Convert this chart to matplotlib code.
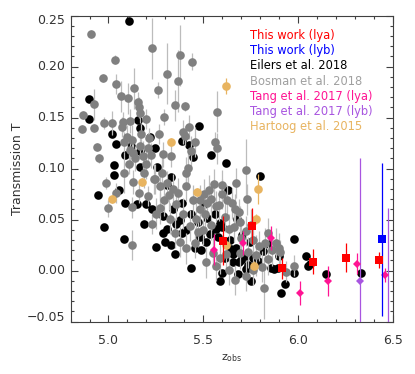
import numpy as np
import matplotlib
matplotlib.use('Agg')
import matplotlib.pyplot as plt
from matplotlib.ticker import MultipleLocator

# ---------------------------------------------------------------------------
# Data
# ---------------------------------------------------------------------------
# This work (Lya)
tw_a_z = [5.606, 5.759, 5.917, 6.080, 6.250, 6.426]
tw_a_T = [0.0295, 0.0439, 0.0023, 0.0088, 0.0128, 0.0105]
tw_a_e = [0.024, 0.018, 0.010, 0.012, 0.014, 0.008]

# This work (Lyb)
tw_b_z = [6.444]
tw_b_T = [0.031]
tw_b_e = [0.075]

# Tang et al. 2017 (Lya)
tang_a_z = [5.558, 5.710, 5.859, 6.012, 6.159, 6.308, 6.459]
tang_a_T = [0.0206, 0.027, 0.032, -0.022, -0.010, 0.007, -0.004]
tang_a_e = [0.015, 0.012, 0.012, 0.012, 0.015, 0.010, 0.007]

# Tang et al. 2017 (Lyb)
tang_b_z = [6.324, 6.473]
tang_b_T = [-0.010, -0.070]
tang_b_e = [0.120, 0.131]

# Hartoog et al. 2015
hart_z = [5.620, 5.328, 5.179, 5.019, 5.469, 5.789, 5.778, 5.620, 5.769]
hart_T = [0.181, 0.126, 0.087, 0.0704, 0.077, 0.080, 0.051, 0.025, 0.005]
hart_e = [0.008, 0.004, 0.004, 0.004, 0.004, 0.015, 0.005, 0.004, 0.004]

# Eilers et al. 2018
eil_z = [5.109, 4.898, 4.898, 5.021, 5.039, 5.030, 5.030, 4.947, 5.056, 4.976,
         5.088, 5.081, 5.088, 5.118, 5.158, 5.167, 5.165, 5.167, 5.149, 5.197,
         5.186, 5.218, 5.246, 5.227, 5.248, 5.258, 5.285, 5.306, 5.300, 5.330,
         5.307, 5.330, 5.350, 5.376, 5.388, 5.386, 5.425, 5.436, 5.443, 5.479,
         5.502, 5.481, 5.490, 5.539, 5.562, 5.629, 5.620, 5.680, 5.717, 5.683,
         5.752, 5.799, 5.588, 5.601, 5.859, 5.899, 5.933, 5.908, 5.976, 5.976,
         6.040, 6.052, 6.147, 6.329, 5.534, 5.569, 5.587, 5.646, 5.657, 5.686,
         5.736, 5.815, 5.787, 5.892, 5.411, 5.390, 5.516, 5.437,
         5.600, 5.615, 5.640, 5.655, 5.670, 5.700, 5.725, 5.745, 5.470, 5.520,
         5.355, 5.340, 5.290, 5.455, 5.580, 5.705, 5.760, 5.845, 5.870, 6.060]
eil_T = [0.245, 0.168, 0.149, 0.134, 0.124, 0.104, 0.094, 0.074, 0.079, 0.043,
         0.066, 0.031, 0.113, 0.122, 0.148, 0.140, 0.117, 0.102, 0.065, 0.065,
         0.046, 0.131, 0.120, 0.060, 0.023, 0.102, 0.037, 0.084, 0.028, 0.092,
         0.041, 0.025, 0.016, 0.050, 0.066, 0.127, 0.123, 0.003, 0.111, 0.142,
         0.065, 0.033, 0.020, 0.113, 0.056, 0.079, 0.106, 0.051, 0.013, -0.003,
         -0.010, 0.093, -0.010, -0.002, 0.003, 0.014, -0.013, -0.022, 0.031, -0.002,
         0.014, 0.005, -0.003, -0.002, 0.036, 0.041, 0.047, 0.021, 0.016, 0.008,
         0.006, 0.019, 0.0095, 0.003, 0.040, 0.037, 0.028, 0.056,
         0.043, 0.012, 0.030, 0.008, 0.022, 0.010, 0.002, 0.028, 0.048, 0.052,
         0.046, 0.060, 0.054, 0.022, 0.033, 0.035, 0.012, 0.026, 0.002, 0.007]

# Bosman et al. 2018
bos_z = [4.910, 5.232, 5.035, 5.378, 5.439, 4.970, 5.042, 5.307, 5.367, 5.133,
         5.262, 5.067, 5.102, 4.923, 5.155, 5.349, 5.402, 5.571, 4.865, 4.858,
         4.923, 4.976, 5.018, 5.074, 5.112, 5.160, 5.165, 5.295, 5.200, 5.072,
         5.100, 5.172, 5.211, 5.267, 4.942, 4.949, 5.081, 5.126, 5.130, 5.167,
         5.207, 5.225, 5.290, 5.330, 5.392, 5.406, 5.422, 5.455, 5.560, 5.571,
         5.437, 4.987, 4.996, 5.081, 5.037, 5.123, 5.125, 5.186, 5.200, 5.239,
         5.281, 5.270, 5.293, 5.320, 5.227, 5.355, 5.253, 5.369, 5.411, 5.407,
         5.418, 5.444, 5.481, 5.529, 5.557, 5.597, 5.502, 5.522, 5.567, 5.601,
         5.624, 5.671, 5.727, 5.732, 5.665, 5.613, 5.636, 5.660, 5.692, 5.727,
         5.393, 5.428, 5.464, 5.499, 5.350, 5.376, 5.411, 5.455, 5.762, 5.794,
         5.824, 5.843, 5.885, 5.897, 5.843, 5.808, 5.762, 5.724, 5.669, 5.819,
         5.636, 5.569, 5.516, 5.976, 5.937, 5.692, 5.736, 5.551, 5.472, 5.270,
         5.323, 5.209, 5.160, 5.130, 5.109,
         5.140, 5.115, 5.180, 5.245, 5.310, 5.340, 5.480, 5.510, 5.540, 5.585,
         5.650, 5.690, 5.750, 5.780, 5.700, 5.620, 5.590, 5.540, 5.860, 5.905]
bos_T = [0.232, 0.218, 0.207, 0.211, 0.205, 0.189, 0.183, 0.193, 0.186, 0.179,
         0.177, 0.171, 0.169, 0.163, 0.165, 0.162, 0.161, 0.156, 0.153, 0.139,
         0.140, 0.145, 0.145, 0.146, 0.147, 0.160, 0.155, 0.151, 0.149, 0.141,
         0.131, 0.134, 0.130, 0.134, 0.121, 0.110, 0.126, 0.128, 0.115, 0.122,
         0.120, 0.113, 0.114, 0.112, 0.136, 0.132, 0.141, 0.126, 0.126, 0.120,
         0.117, 0.086, 0.061, 0.096, 0.076, 0.062, 0.025, 0.096, 0.105, 0.090,
         0.096, 0.083, 0.069, 0.074, 0.046, 0.065, 0.056, 0.076, 0.083, 0.096,
         0.101, 0.069, 0.069, 0.079, 0.085, 0.084, 0.075, 0.066, 0.063, 0.075,
         0.069, 0.086, 0.099, 0.070, 0.060, 0.053, 0.041, 0.043, 0.048, 0.039,
         0.056, 0.044, 0.051, 0.040, 0.037, 0.028, 0.022, 0.027, 0.030, 0.024,
         0.027, 0.037, 0.027, 0.022, 0.011, 0.004, 0.001, -0.005, -0.009, -0.017,
         0.001, 0.005, 0.008, 0.005, -0.001, 0.017, 0.018, 0.017, 0.038, 0.061,
         0.051, 0.073, 0.076, 0.087, 0.105,
         0.110, 0.118, 0.112, 0.090, 0.086, 0.080, 0.060, 0.056, 0.070, 0.064,
         0.066, 0.058, 0.045, 0.015, 0.032, 0.016, 0.012, 0.045, 0.020, 0.018]
bos_e = [0.004, 0.030, 0.004, 0.030, 0.008, 0.004, 0.010, 0.030, 0.030, 0.020,
         0.008, 0.015, 0.015, 0.015, 0.010, 0.015, 0.004, 0.020, 0.004, 0.004,
         0.004, 0.006, 0.012, 0.010, 0.012, 0.010, 0.010, 0.008, 0.010, 0.010,
         0.012, 0.010, 0.010, 0.010, 0.004, 0.004, 0.010, 0.015, 0.010, 0.012,
         0.015, 0.012, 0.012, 0.010, 0.012, 0.010, 0.012, 0.015, 0.010, 0.015,
         0.015, 0.006, 0.008, 0.020, 0.010, 0.010, 0.015, 0.015, 0.015, 0.015,
         0.015, 0.015, 0.015, 0.015, 0.010, 0.015, 0.015, 0.015, 0.015, 0.015,
         0.015, 0.015, 0.015, 0.015, 0.015, 0.015, 0.015, 0.015, 0.015, 0.015,
         0.015, 0.015, 0.030, 0.015, 0.015, 0.015, 0.015, 0.015, 0.015, 0.015,
         0.015, 0.015, 0.015, 0.015, 0.015, 0.015, 0.015, 0.015, 0.015, 0.015,
         0.015, 0.015, 0.015, 0.015, 0.015, 0.015, 0.015, 0.015, 0.015, 0.030,
         0.015, 0.015, 0.015, 0.010, 0.010, 0.015, 0.015, 0.015, 0.015, 0.015,
         0.015, 0.010, 0.010, 0.012, 0.010,
         0.012, 0.010, 0.015, 0.015, 0.012, 0.015, 0.015, 0.015, 0.012, 0.015,
         0.015, 0.012, 0.015, 0.020, 0.015, 0.015, 0.015, 0.015, 0.015, 0.012]

legend_labels = ['This work (lya)', 'This work (lyb)', 'Eilers et al. 2018',
                 'Bosman et al. 2018', 'Tang et al. 2017 (lya)',
                 'Tang et al. 2017 (lyb)', 'Hartoog et al. 2015']
legend_colors = ['#ff0000', '#0000ff', '#000000', '#a0a0a0',
                 '#ff1493', '#a855e0', '#e8b460']

# ---------------------------------------------------------------------------
# Plot
# ---------------------------------------------------------------------------
fig = plt.figure(figsize=(4.15, 3.74), dpi=100)
ax = fig.add_axes([0.170, 0.140, 0.777, 0.818])

ms_c = 6.2
# Eilers
ax.plot(eil_z, eil_T, 'o', color='black', ms=ms_c, mew=0, zorder=2)
# Bosman
ax.errorbar(bos_z, bos_T, yerr=bos_e, fmt='none', ecolor='#bcbcbc', elinewidth=0.9,
            zorder=2.5)
ax.plot(bos_z, bos_T, 'o', color='#808080', ms=ms_c, mew=0, zorder=3)
# Hartoog
ax.errorbar(hart_z, hart_T, yerr=hart_e, fmt='o', color='#e8b460', ms=ms_c, mew=0,
            elinewidth=0.9, zorder=4)
# Tang lya
ax.errorbar(tang_a_z, tang_a_T, yerr=tang_a_e, fmt='D', color='#ff1493', ms=4.3, mew=0,
            elinewidth=0.9, zorder=5)
# Tang lyb
ax.errorbar(tang_b_z, tang_b_T, yerr=tang_b_e, fmt='D', color='#a855e0', ms=4.3, mew=0,
            elinewidth=0.9, zorder=5)
# This work lya
ax.errorbar(tw_a_z, tw_a_T, yerr=tw_a_e, fmt='s', color='#ff0000', ms=5.8, mew=0,
            elinewidth=0.9, zorder=6)
# This work lyb
ax.errorbar(tw_b_z, tw_b_T, yerr=tw_b_e, fmt='s', color='#0000ff', ms=5.8, mew=0,
            elinewidth=0.9, zorder=6)

ax.set_xlim(4.8, 6.5)
ax.set_ylim(-0.05, 0.25)
ax.xaxis.set_major_locator(MultipleLocator(0.5))
ax.xaxis.set_minor_locator(MultipleLocator(0.1))
ax.yaxis.set_major_locator(MultipleLocator(0.05))
ax.yaxis.set_minor_locator(MultipleLocator(0.01))
ax.set_xticklabels([])
ax.set_yticklabels([])
ax.tick_params(which='both', direction='in', top=True, right=True, color='#404040')
ax.tick_params(which='major', length=5, width=0.8)
ax.tick_params(which='minor', length=2.5, width=0.8)
for spine in ax.spines.values():
    spine.set_color('#404040')
    spine.set_linewidth(0.8)

# IDL-style tick labels (end labels nudged inside the axis range)
for v, s in zip([5.0, 5.5, 6.0, 6.5], ['5.0', '5.5', '6.0', '6.5']):
    ax.text(v, -0.062, s, ha='center', va='top', fontsize=9, color='#333333')
ylabs = [(-0.05, '\u22120.05', -0.046), (0.0, '0.00', 0.0), (0.05, '0.05', 0.05),
         (0.10, '0.10', 0.10), (0.15, '0.15', 0.15), (0.20, '0.20', 0.20),
         (0.25, '0.25', 0.245)]
for v, s, ypos in ylabs:
    ax.text(4.77, ypos, s, ha='right', va='center', fontsize=9, color='#333333')

ax.set_ylabel('Transmission T', fontsize=9, color='#333333', labelpad=30)
ax.text(5.65, -0.0795, r'z$_{\rm obs}$', ha='center', va='top', fontsize=8,
        color='#333333')

for i, (lab, col) in enumerate(zip(legend_labels, legend_colors)):
    ax.text(0.558, 0.935 - i * 0.0495, lab, transform=ax.transAxes, color=col,
            fontsize=8.3, ha='left', va='center')

fig.savefig('out.png', dpi=100, facecolor='white')
